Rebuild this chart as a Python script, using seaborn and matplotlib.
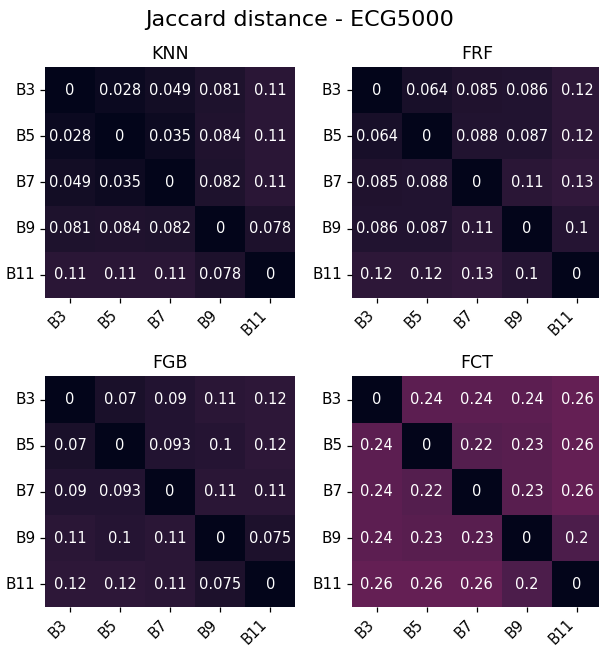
import numpy as np
import pandas as pd
import matplotlib
matplotlib.use('Agg')
import matplotlib.pyplot as plt
import seaborn as sns

labels = ['B3', 'B5', 'B7', 'B9', 'B11']
models = ['KNN', 'FRF', 'FGB', 'FCT']

knn = [[0, 0.028, 0.049, 0.081, 0.11],
       [0.028, 0, 0.035, 0.084, 0.11],
       [0.049, 0.035, 0, 0.082, 0.11],
       [0.081, 0.084, 0.082, 0, 0.078],
       [0.11, 0.11, 0.11, 0.078, 0]]
frf = [[0, 0.064, 0.085, 0.086, 0.12],
       [0.064, 0, 0.088, 0.087, 0.12],
       [0.085, 0.088, 0, 0.11, 0.13],
       [0.086, 0.087, 0.11, 0, 0.1],
       [0.12, 0.12, 0.13, 0.1, 0]]
fgb = [[0, 0.07, 0.09, 0.11, 0.12],
       [0.07, 0, 0.093, 0.1, 0.12],
       [0.09, 0.093, 0, 0.11, 0.11],
       [0.11, 0.1, 0.11, 0, 0.075],
       [0.12, 0.12, 0.11, 0.075, 0]]
fct = [[0, 0.24, 0.24, 0.24, 0.26],
       [0.24, 0, 0.22, 0.23, 0.26],
       [0.24, 0.22, 0, 0.23, 0.26],
       [0.24, 0.23, 0.23, 0, 0.2],
       [0.26, 0.26, 0.26, 0.2, 0]]

mats = [knn, frf, fgb, fct]

fig, axes = plt.subplots(2, 2, figsize=(5.99, 6.51), dpi=100)
for ax, name, m in zip(axes.flat, models, mats):
    df = pd.DataFrame(m, index=labels, columns=labels)
    sns.heatmap(df, annot=True, cmap='rocket', vmin=0, vmax=1, cbar=False, ax=ax,
                annot_kws={'fontsize': 10.5})
    ax.set_title(name, fontsize=12.5)
    ax.set_xticklabels(labels, rotation=45, ha='right', fontsize=10.5)
    ax.set_yticklabels(labels, rotation=0, fontsize=11)
    ax.tick_params(length=3.8, width=0.9, pad=3)

fig.suptitle('Jaccard distance - ECG5000', fontsize=16, y=0.985)
fig.subplots_adjust(left=0.0751, right=1.005, top=0.8971, bottom=0.067,
                    wspace=0.225, hspace=0.34)
plt.savefig('out.png')
